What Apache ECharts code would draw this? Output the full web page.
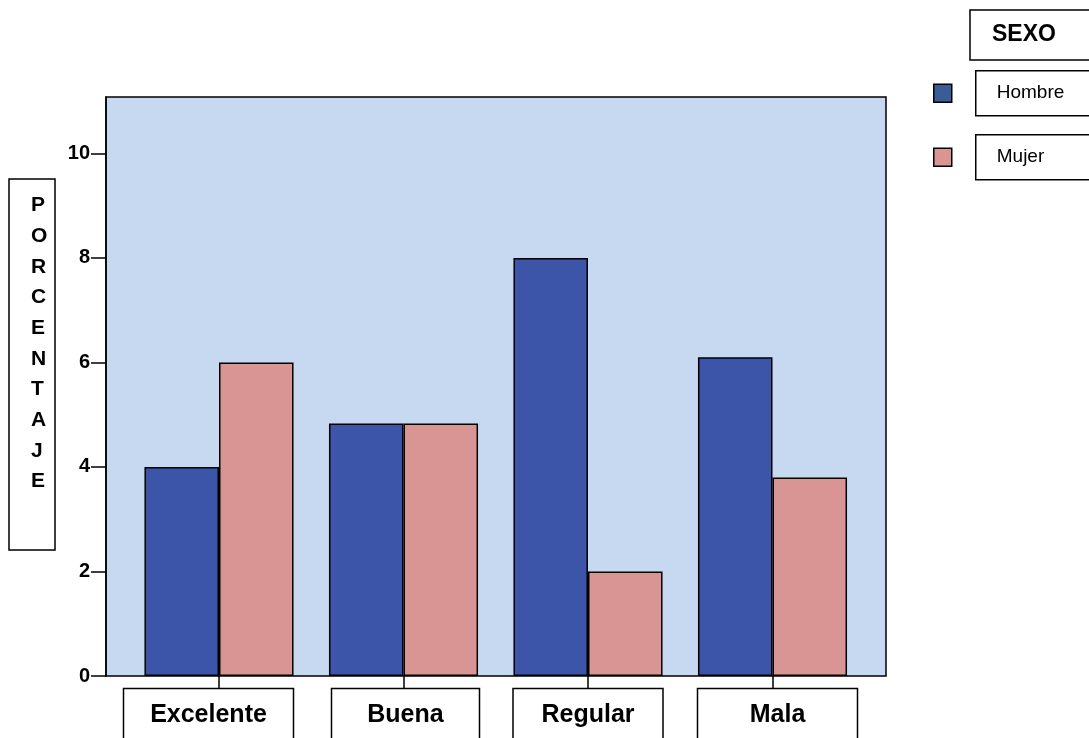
<!DOCTYPE html>
<html>
<head>
<meta charset="utf-8">
<script src="https://cdn.jsdelivr.net/npm/echarts@6/dist/echarts.min.js"></script>
<style>
  html, body { margin: 0; padding: 0; background: #fff; }
  #chart { width: 1089px; height: 738px; }
</style>
</head>
<body>
<div id="chart"></div>
<script>
// Percentage of respondents per rating, split by sex
const categories = ['Excelente', 'Buena', 'Regular', 'Mala'];
const hombre = [4.0, 4.83, 8.0, 6.1];
const mujer = [6.0, 4.83, 2.0, 3.8];
const yTicks = [0, 2, 4, 6, 8, 10];
const seriesNames = ['Hombre', 'Mujer'];
const legendTitle = 'SEXO';
const yTitle = 'PORCENTAJE';

const FONT = 'Arial, "Liberation Sans", Helvetica, sans-serif';
const Y_MAX = 11.08;

// per-category label box widths and horizontal nudges
const labelBoxWidth = [130, 108, 110, 120];
const labelShift = [-10.5, 2, 0, 5];

const rich = {};
categories.forEach((c, i) => {
  rich['c' + i] = {
    fontFamily: FONT, fontSize: 25, fontWeight: 'bold', color: '#000',
    width: labelBoxWidth[i], align: 'center', lineHeight: 28,
    borderColor: '#000', borderWidth: 1.5,
    padding: [14, 20, 40, 20]
  };
  rich['s' + i] = { width: Math.abs(labelShift[i]) * 2 };
});

const chart = echarts.init(document.getElementById('chart'), null, { renderer: 'canvas' });

chart.setOption({
  animation: false,
  backgroundColor: '#ffffff',
  title: [
    {
      text: legendTitle,
      left: 970, top: 10,
      padding: [13, 40, 13, 22],
      borderColor: '#000', borderWidth: 1.5,
      textStyle: { fontFamily: FONT, fontSize: 23, fontWeight: 'bold', color: '#000', lineHeight: 24 }
    },
    {
      text: yTitle.split('').join('\n'),
      left: 9, top: 179,
      padding: [11, 8, 53, 22],
      borderColor: '#000', borderWidth: 1.5,
      textAlign: 'left',
      textStyle: { fontFamily: FONT, fontSize: 21, fontWeight: 'bold', color: '#000', lineHeight: 30.7, align: 'center', width: 16 }
    }
  ],
  legend: {
    orient: 'vertical',
    left: 933, top: 70,
    padding: 0,
    itemGap: 17.5,
    itemWidth: 18, itemHeight: 18,
    selectedMode: false,
    data: [
      { name: seriesNames[0], icon: 'rect', itemStyle: { color: '#3a5d98', borderColor: '#000', borderWidth: 1.5 } },
      { name: seriesNames[1], icon: 'rect', itemStyle: { color: '#d99594', borderColor: '#000', borderWidth: 1.5 } }
    ],
    formatter: name => '{g|}{b|' + name + '}',
    textStyle: {
      rich: {
        g: { width: 19 },
        b: {
          fontFamily: FONT, fontSize: 19, color: '#000', lineHeight: 20,
          width: 100, padding: [13, 30, 13, 21],
          borderColor: '#000', borderWidth: 1.5
        }
      }
    }
  },
  grid: [
    // frame with the shaded plotting area
    { left: 106, right: 203, top: 97, bottom: 62, show: true, outerBoundsMode: 'none', containLabel: false,
      backgroundColor: '#c6d9f0', borderColor: '#000', borderWidth: 1.5 },
    // band in which the category groups sit
    { left: 126.75, right: 224.25, top: 97, bottom: 62, outerBoundsMode: 'none', containLabel: false }
  ],
  xAxis: [
    { gridIndex: 0, type: 'value', show: false, min: 0, max: 1 },
    {
      gridIndex: 1, type: 'category', data: categories,
      axisLine: { show: false },
      axisTick: { show: true, alignWithLabel: true, length: 13, lineStyle: { color: '#000', width: 1.5 } },
      axisLabel: {
        margin: 38, interval: 0,
        formatter: (v, i) => {
          const s = labelShift[i];
          if (s < 0) return '{c' + i + '|' + v + '}{s' + i + '|}';
          if (s > 0) return '{s' + i + '|}{c' + i + '|' + v + '}';
          return '{c' + i + '|' + v + '}';
        },
        rich: rich
      }
    }
  ],
  yAxis: [
    {
      gridIndex: 0, type: 'value', min: 0, max: Y_MAX,
      splitLine: { show: false },
      axisLine: { show: true, lineStyle: { color: '#000', width: 1.5 } },
      axisTick: { show: true, length: 15, customValues: yTicks, lineStyle: { color: '#000', width: 1.5 } },
      axisLabel: { customValues: yTicks, margin: 16, fontFamily: FONT, fontSize: 20, fontWeight: 'bold', color: '#000' }
    },
    { gridIndex: 1, type: 'value', min: 0, max: Y_MAX, show: false, splitLine: { show: false } }
  ],
  series: [
    {
      name: seriesNames[0], type: 'bar', xAxisIndex: 1, yAxisIndex: 1,
      data: hombre, barGap: '0%', barCategoryGap: '19.2%',
      itemStyle: { color: '#3d55a9', borderColor: '#000', borderWidth: 1.5 }
    },
    {
      name: seriesNames[1], type: 'bar', xAxisIndex: 1, yAxisIndex: 1,
      data: mujer, barGap: '0%', barCategoryGap: '19.2%',
      itemStyle: { color: '#d99594', borderColor: '#000', borderWidth: 1.5 }
    }
  ]
});
</script>
</body>
</html>
